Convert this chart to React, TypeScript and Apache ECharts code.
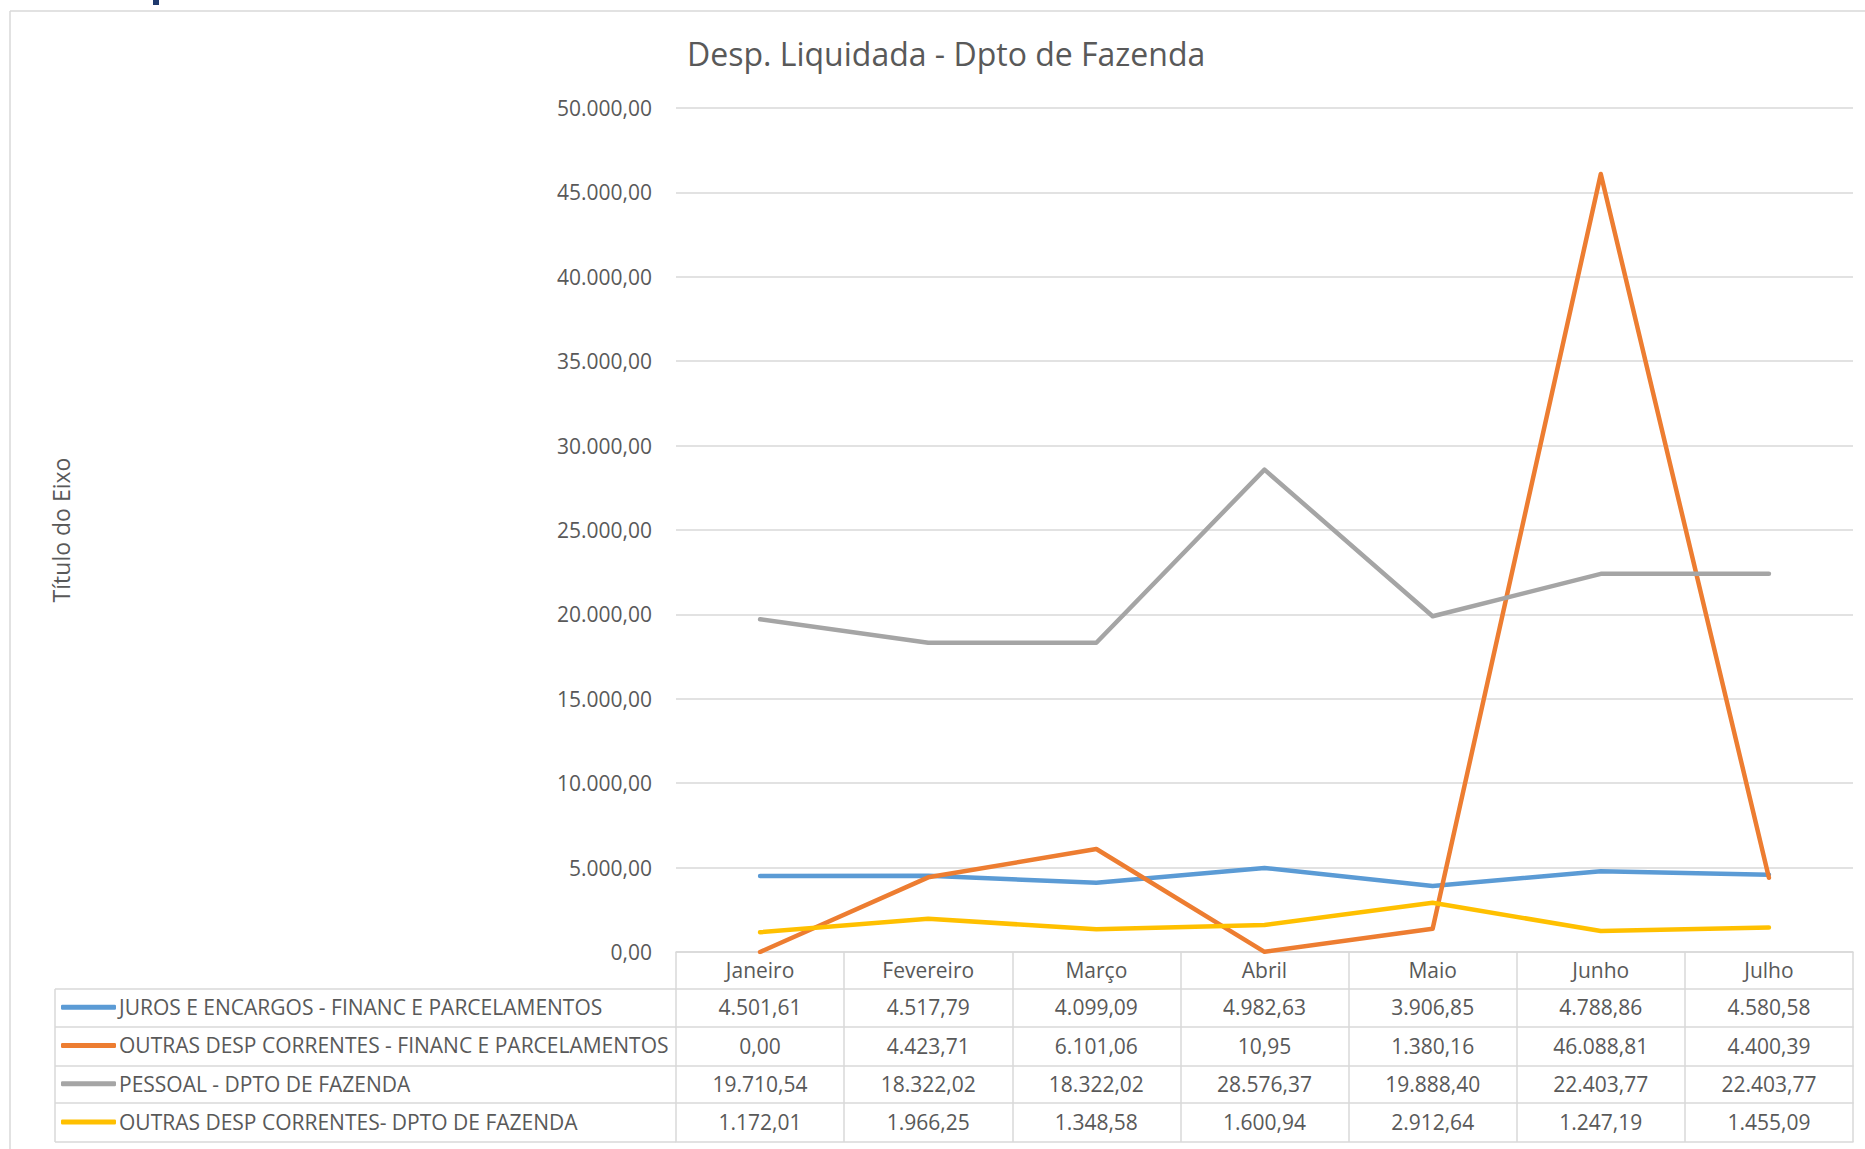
import React, { useEffect, useRef } from 'react';
import * as echarts from 'echarts';

const months = ['Janeiro', 'Fevereiro', 'Março', 'Abril', 'Maio', 'Junho', 'Julho'];
const seriesNames = [
  'JUROS E ENCARGOS - FINANC E PARCELAMENTOS',
  'OUTRAS DESP CORRENTES - FINANC E PARCELAMENTOS',
  'PESSOAL - DPTO DE FAZENDA',
  'OUTRAS DESP CORRENTES- DPTO DE FAZENDA',
];
const juros = [4501.61, 4517.79, 4099.09, 4982.63, 3906.85, 4788.86, 4580.58];
const outrasFinanc = [0.0, 4423.71, 6101.06, 10.95, 1380.16, 46088.81, 4400.39];
const pessoal = [19710.54, 18322.02, 18322.02, 28576.37, 19888.4, 22403.77, 22403.77];
const outrasDpto = [1172.01, 1966.25, 1348.58, 1600.94, 2912.64, 1247.19, 1455.09];
const seriesColors = ['#5B9BD5', '#ED7D31', '#A5A5A5', '#FFC000'];
const yMin = 0;
const yMax = 50000;
const yInterval = 5000;

const chartTitle = 'Desp. Liquidada - Dpto de Fazenda';
const yAxisTitle = 'Título do Eixo';

const FONT = '"Open Sans", "Noto Sans", sans-serif';
const TEXT = '#595959';
const BORDER = '#D9D9D9';

function fmt(v: number): string {
  const fixed = Math.abs(v).toFixed(2);
  const [intPart, dec] = fixed.split('.');
  const withSep = intPart.replace(/\B(?=(\d{3})+(?!\d))/g, '.');
  return (v < 0 ? '-' : '') + withSep + ',' + dec;
}

export default function App() {
  const ref = useRef<HTMLDivElement>(null);

  useEffect(() => {
    document.body.style.margin = '0';
    if (!ref.current) return;
    const chart = echarts.init(ref.current, undefined, { renderer: 'svg' });

    const gridLeft = 676;
    const gridRight = 1853;
    const gridTop = 108;
    const gridBottom = 952;
    const W = 1865;
    const H = 1149;
    const rowTops = [0, 37, 75, 114, 151, 190]; // offsets below the plot bottom
    const allSeries = [juros, outrasFinanc, pessoal, outrasDpto];

    const baseAxis = (data: string[], idx: number) => ({
      type: 'category',
      gridIndex: 0,
      position: 'bottom',
      offset: rowTops[idx],
      data,
      boundaryGap: true,
      axisLine: { show: true, lineStyle: { color: BORDER, width: 1.5 } },
      axisTick: {
        show: idx < rowTops.length - 1,
        interval: 0,
        length: idx < rowTops.length - 1 ? rowTops[idx + 1] - rowTops[idx] : 0,
        lineStyle: { color: BORDER, width: 1.5 },
      },
      axisLabel: {
        show: idx < rowTops.length - 1,
        interval: 0,
        margin: idx < rowTops.length - 1 ? (rowTops[idx + 1] - rowTops[idx]) / 2 - 1 : 0,
        verticalAlign: 'middle',
        fontSize: 21,
        color: TEXT,
        fontFamily: FONT,
      },
      splitLine: { show: false },
    });

    const xAxes: any[] = [baseAxis(months, 0)];
    allSeries.forEach((s, i) => xAxes.push(baseAxis(s.map(fmt), i + 1)));
    xAxes.push(baseAxis(months, rowTops.length - 1));

    const rowLines: any[] = rowTops.slice(1).map((o) => ({
      type: 'line',
      shape: { x1: 55, y1: gridBottom + o, x2: gridLeft, y2: gridBottom + o },
      style: { stroke: BORDER, lineWidth: 1.5 },
    }));

    chart.setOption({
      animation: false,
      backgroundColor: '#ffffff',
      title: {
        text: chartTitle,
        left: 682,
        top: 32,
        textStyle: { fontSize: 32, fontWeight: 'normal', color: TEXT, fontFamily: FONT },
      },
      grid: {
        left: gridLeft,
        top: gridTop,
        width: gridRight - gridLeft,
        height: gridBottom - gridTop,
        containLabel: false,
      },
      legend: {
        orient: 'vertical',
        left: 61,
        top: gridBottom + rowTops[1] - 1,
        padding: 0,
        itemGap: 0,
        itemWidth: 55,
        itemHeight: 5,
        icon: 'roundRect',
        selectedMode: false,
        textStyle: { fontSize: 21, color: TEXT, fontFamily: FONT, lineHeight: 38.25, padding: [0, 0, 0, -2] },
        data: seriesNames,
      },
      xAxis: xAxes,
      yAxis: {
        type: 'value',
        min: yMin,
        max: yMax,
        interval: yInterval,
        name: yAxisTitle,
        nameLocation: 'middle',
        nameRotate: 90,
        nameGap: gridLeft - 61,
        nameTextStyle: { fontSize: 23, color: TEXT, fontFamily: FONT, verticalAlign: 'middle' },
        axisLine: { show: false },
        axisTick: { show: false },
        axisLabel: { margin: 24, fontSize: 21, color: TEXT, fontFamily: FONT, formatter: (v: number) => fmt(v) },
        splitLine: { show: true, lineStyle: { color: BORDER, width: 1.5 } },
      },
      series: allSeries.map((s, i) => ({
        name: seriesNames[i],
        type: 'line',
        xAxisIndex: 0,
        data: s,
        symbol: 'none',
        smooth: false,
        color: seriesColors[i],
        lineStyle: { width: 4.5, color: seriesColors[i], cap: 'round', join: 'round' },
        itemStyle: { color: seriesColors[i] },
      })),
      graphic: [
        {
          type: 'line',
          shape: { x1: 10, y1: 11, x2: W, y2: 11 },
          style: { stroke: BORDER, lineWidth: 1.5 },
        },
        {
          type: 'line',
          shape: { x1: 10, y1: 11, x2: 10, y2: H },
          style: { stroke: BORDER, lineWidth: 1.5 },
        },
        {
          type: 'rect',
          shape: { x: 153, y: 0, width: 6, height: 5 },
          style: { fill: '#1F3A6E' },
        },
        {
          type: 'line',
          shape: { x1: 55, y1: gridBottom + rowTops[1], x2: 55, y2: gridBottom + rowTops[rowTops.length - 1] },
          style: { stroke: BORDER, lineWidth: 1.5 },
        },
        ...rowLines,
      ],
    });

    return () => chart.dispose();
  }, []);

  return (
    <div
      ref={ref}
      style={{ position: 'absolute', left: 0, top: 0, width: 1865, height: 1149, background: '#fff' }}
    />
  );
}
